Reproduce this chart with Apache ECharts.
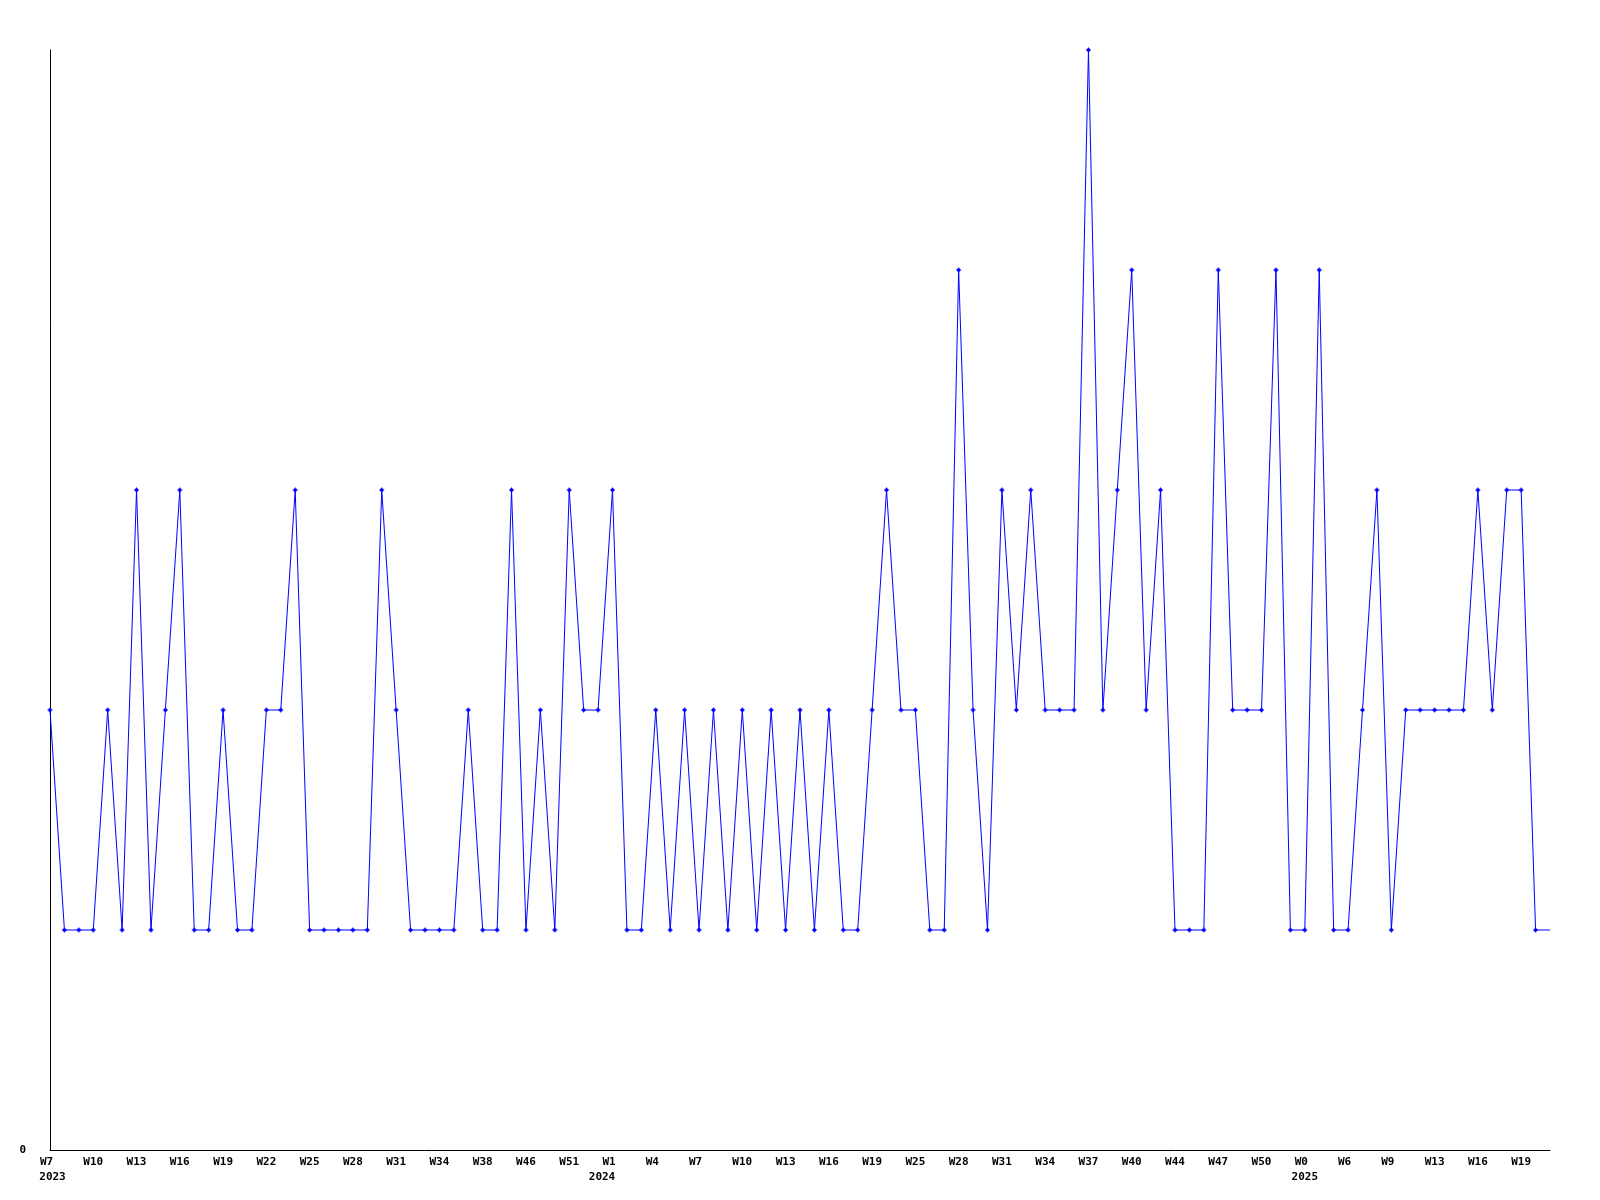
<!DOCTYPE html>
<html>
<head>
<meta charset="utf-8">
<script src="https://cdn.jsdelivr.net/npm/echarts@6/dist/echarts.min.js"></script>
<style>
html,body{margin:0;padding:0;background:#fff;}
#c{width:1600px;height:1200px;}
</style>
</head>
<body>
<div id="c"></div>
<script>
// Week categories (year + week); only every third one is labelled in the chart
const categories = [
  "2023 W7","2023 W8","2023 W9","2023 W10","2023 W11","2023 W12","2023 W13","2023 W14","2023 W15","2023 W16",
  "2023 W17","2023 W18","2023 W19","2023 W20","2023 W21","2023 W22","2023 W23","2023 W24","2023 W25","2023 W26",
  "2023 W27","2023 W28","2023 W29","2023 W30","2023 W31","2023 W32","2023 W33","2023 W34","2023 W36","2023 W37",
  "2023 W38","2023 W41","2023 W44","2023 W46","2023 W47","2023 W49","2023 W51","2023 W52","2024 W0","2024 W1",
  "2024 W2","2024 W3","2024 W4","2024 W5","2024 W6","2024 W7","2024 W8","2024 W9","2024 W10","2024 W11",
  "2024 W12","2024 W13","2024 W14","2024 W15","2024 W16","2024 W17","2024 W18","2024 W19","2024 W21","2024 W23",
  "2024 W25","2024 W26","2024 W27","2024 W28","2024 W29","2024 W30","2024 W31","2024 W32","2024 W33","2024 W34",
  "2024 W35","2024 W36","2024 W37","2024 W38","2024 W39","2024 W40","2024 W42","2024 W43","2024 W44","2024 W45",
  "2024 W46","2024 W47","2024 W48","2024 W49","2024 W50","2024 W51","2024 W52","2025 W0","2025 W2","2025 W4",
  "2025 W6","2025 W7","2025 W8","2025 W9","2025 W11","2025 W12","2025 W13","2025 W14","2025 W15","2025 W16",
  "2025 W17","2025 W18","2025 W19","2025 W20","2025 W21"
];

const values = [
  2,1,1,1,2,1,3,1,2,3,
  1,1,2,1,1,2,2,3,1,1,
  1,1,1,3,2,1,1,1,1,2,
  1,1,3,1,2,1,3,2,2,3,
  1,1,2,1,2,1,2,1,2,1,
  2,1,2,1,2,1,1,2,3,2,
  2,1,1,4,2,1,3,2,3,2,
  2,2,5,2,3,4,2,3,1,1,
  1,4,2,2,2,4,1,1,4,1,
  1,2,3,1,2,2,2,2,2,3,
  2,3,3,1,1
];

const yTickLabels = ["0"];

const labelStep = 3;
const chart = echarts.init(document.getElementById('c'), null, {renderer: 'canvas'});
const fontFamily = '"DejaVu Sans Mono", "Liberation Mono", monospace';
const baseText = {color: '#000', fontFamily: fontFamily, fontWeight: 'bold', fontSize: 11, lineHeight: 15};

chart.setOption({
  animation: false,
  backgroundColor: '#ffffff',
  grid: {left: 50, right: 50, top: 50, bottom: 50, containLabel: false},
  xAxis: {
    type: 'category',
    data: categories,
    boundaryGap: false,
    axisLine: {show: true, lineStyle: {color: '#000', width: 1}},
    axisTick: {show: false},
    splitLine: {show: false},
    axisLabel: Object.assign({}, baseText, {
      interval: labelStep - 1,
      margin: 5,
      rich: {
        w3: Object.assign({}, baseText),
        w2: Object.assign({}, baseText, {padding: [0, 7, 0, 0]}),
        yA: Object.assign({}, baseText, {padding: [0, 0, 0, 5]}),
        yB: Object.assign({}, baseText, {padding: [0, 21, 0, 0]}),
        yC: Object.assign({}, baseText)
      },
      formatter: function (value, index) {
        const parts = value.split(' ');
        const week = parts[1];
        const year = parts[0];
        let showYear = index === 0;
        if (index >= labelStep) {
          const prevYear = categories[index - labelStep].split(' ')[0];
          if (prevYear !== year) showYear = true;
        }
        const wStyle = week.length < 3 ? 'w2' : 'w3';
        let s = '{' + wStyle + '|' + week + '}';
        if (showYear) {
          const yStyle = index === 0 ? 'yA' : (week.length < 3 && week !== 'W0' ? 'yB' : 'yC');
          s += '\n{' + yStyle + '|' + year + '}';
        }
        return s;
      }
    })
  },
  yAxis: {
    type: 'value',
    min: 0,
    max: 5,
    interval: 5,
    axisLine: {show: true, lineStyle: {color: '#000', width: 1}},
    axisTick: {show: false},
    splitLine: {show: false},
    axisLabel: {
      margin: 24,
      color: '#000',
      fontFamily: fontFamily,
      fontWeight: 'bold',
      fontSize: 11,
      formatter: function (v) { return yTickLabels.indexOf(String(v)) >= 0 ? String(v) : ''; }
    }
  },
  series: [{
    type: 'line',
    data: values,
    smooth: false,
    symbol: 'path://M2,0H3V1H4V2H5V3H4V4H3V5H2V4H1V3H0V2H1V1H2Z',
    symbolSize: function (val, params) { return params.dataIndex === values.length - 1 ? 0 : 5; },
    showAllSymbol: true,
    itemStyle: {color: '#0000ff'},
    lineStyle: {color: '#0000ff', width: 1},
    emphasis: {disabled: true}
  }]
});
</script>
</body>
</html>
